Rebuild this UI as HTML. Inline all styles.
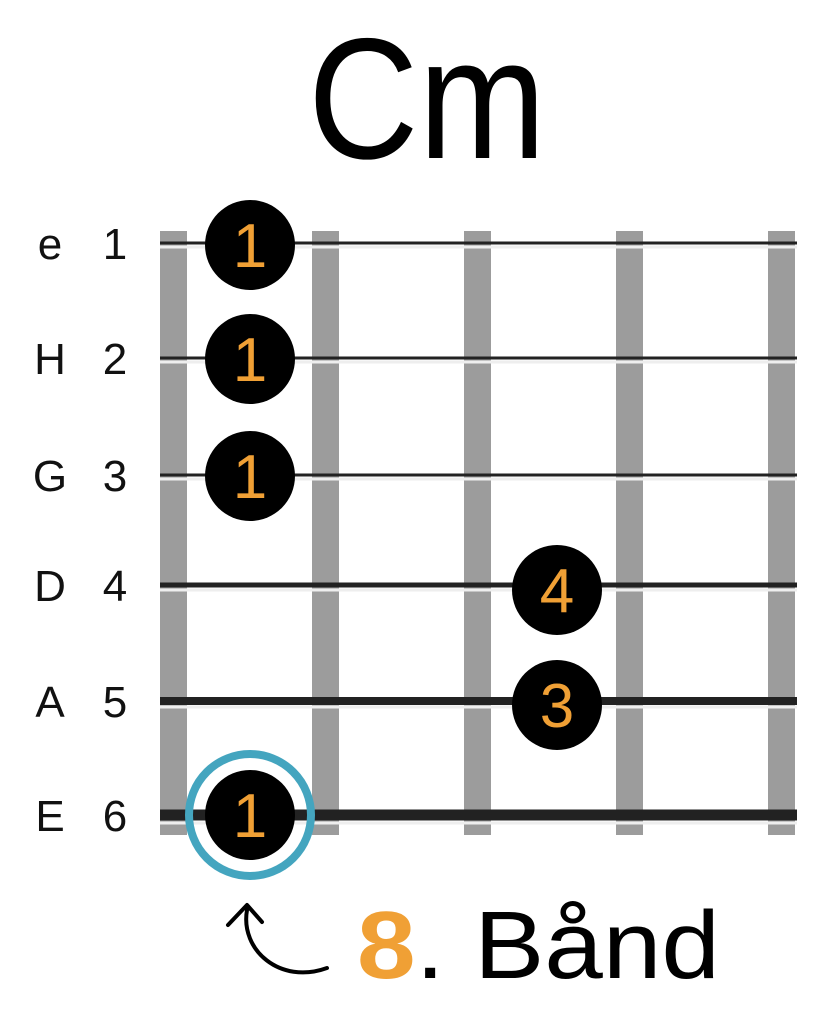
<!DOCTYPE html>
<html><head><style>
body{margin:0;width:830px;height:1024px;background:#fff;overflow:hidden}
</style></head><body>
<svg width="830" height="1024" viewBox="0 0 830 1024" xmlns="http://www.w3.org/2000/svg" font-family="Liberation Sans, sans-serif">
<text x="308" y="158" font-size="172" textLength="238" lengthAdjust="spacingAndGlyphs" fill="#000">Cm</text>
<g fill="#9c9c9c">
<rect x="160" y="231" width="27" height="604"/>
<rect x="312" y="231" width="27" height="604"/>
<rect x="464" y="231" width="27" height="604"/>
<rect x="616" y="231" width="27" height="604"/>
<rect x="768" y="231" width="27" height="604"/>
</g>
<g stroke="#eee">
<line x1="160" x2="797" y1="247" y2="247" stroke-width="3"/>
<line x1="160" x2="797" y1="362" y2="362" stroke-width="3"/>
<line x1="160" x2="797" y1="479" y2="479" stroke-width="3"/>
<line x1="160" x2="797" y1="590" y2="590" stroke-width="3"/>
<line x1="160" x2="797" y1="707" y2="707" stroke-width="3"/>
<line x1="160" x2="797" y1="823" y2="823" stroke-width="3"/>
</g>
<g stroke="#222">
<line x1="160" x2="797" y1="243" y2="243" stroke-width="3"/>
<line x1="160" x2="797" y1="358" y2="358" stroke-width="3"/>
<line x1="160" x2="797" y1="475" y2="475" stroke-width="3"/>
<line x1="160" x2="797" y1="585" y2="585" stroke-width="5"/>
<line x1="160" x2="797" y1="701" y2="701" stroke-width="8"/>
<line x1="160" x2="797" y1="815" y2="815" stroke-width="11"/>
</g>
<g font-size="44" fill="#111">
<text x="50" y="259" text-anchor="middle">e</text><text x="115" y="259" text-anchor="middle">1</text>
<text x="50" y="374" text-anchor="middle">H</text><text x="115" y="374" text-anchor="middle">2</text>
<text x="50" y="491" text-anchor="middle">G</text><text x="115" y="491" text-anchor="middle">3</text>
<text x="50" y="601" text-anchor="middle">D</text><text x="115" y="601" text-anchor="middle">4</text>
<text x="50" y="717" text-anchor="middle">A</text><text x="115" y="717" text-anchor="middle">5</text>
<text x="50" y="831" text-anchor="middle">E</text><text x="115" y="831" text-anchor="middle">6</text>
</g>
<circle cx="250" cy="815" r="61" fill="none" stroke="#44a5bf" stroke-width="8"/>
<g fill="#000">
<circle cx="250" cy="245" r="45"/>
<circle cx="250" cy="359" r="45"/>
<circle cx="250" cy="476" r="45"/>
<circle cx="557" cy="590" r="45"/>
<circle cx="557" cy="705" r="45"/>
<circle cx="250" cy="815" r="45"/>
</g>
<g font-size="62" fill="#f0a035" text-anchor="middle">
<text x="250" y="267">1</text>
<text x="250" y="381">1</text>
<text x="250" y="498">1</text>
<text x="557" y="612">4</text>
<text x="557" y="727">3</text>
<text x="250" y="837">1</text>
</g>
<path d="M327,968 C280,985 240,950 247,910" fill="none" stroke="#000" stroke-width="4" stroke-linecap="round"/>
<path d="M228,925 L247,905 L262,922" fill="none" stroke="#000" stroke-width="4" stroke-linecap="round" stroke-linejoin="round"/>
<text x="357" y="978" font-size="96" textLength="363" lengthAdjust="spacingAndGlyphs" fill="#000"><tspan fill="#f0a035" font-weight="bold">8</tspan>. Bånd</text>
</svg>
</body></html>
